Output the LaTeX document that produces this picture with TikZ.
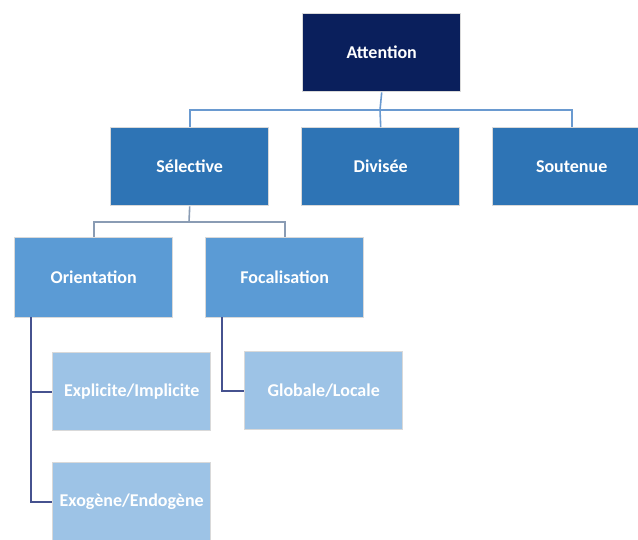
\documentclass[tikz,border=0pt]{standalone}
\usepackage{fontspec}
\setmainfont{Carlito}
\begin{document}
\begin{tikzpicture}[x=1pt,y=-1pt,
  box/.style={rectangle,anchor=north west,minimum width=158pt,minimum height=78pt,
    inner sep=0pt,draw=gray!30,line width=1.4pt,text=white,
    font=\fontsize{18}{21}\selectfont\bfseries},
  lvlA/.style={box,fill=navyA},
  lvlB/.style={box,fill=blueB},
  lvlC/.style={box,fill=blueC,minimum height=80pt},
  lvlD/.style={box,fill=blueD},
  linkA/.style={draw=linkAc,line width=1.6pt},
  linkB/.style={draw=linkBc,line width=1.6pt},
  linkC/.style={draw=linkCc,line width=2pt}]
\definecolor{navyA}{HTML}{0A1F5C}
\definecolor{blueB}{HTML}{2E74B5}
\definecolor{blueC}{HTML}{5B9BD5}
\definecolor{blueD}{HTML}{9DC3E6}
\definecolor{linkAc}{HTML}{6A9AD0}
\definecolor{linkBc}{HTML}{8A9CB4}
\definecolor{linkCc}{HTML}{46528F}
\useasboundingbox[fill=white] (0,0) rectangle (638,539);

% top level
\node[lvlA] (att) at (302,13) {Attention};
% second level
\node[lvlB] (sel) at (110,127) {Sélective};
\node[lvlB] (div) at (301,127) {Divisée};
\node[lvlB] (sou) at (492,127) {Soutenue};
% third level
\node[lvlC] (ori) at (14,237) {Orientation};
\node[lvlC] (foc) at (205,237) {Focalisation};
% fourth level
\node[lvlD] (exp) at (52,352) {Explicite/Implicite};
\node[lvlD] (exo) at (52,462) {Exogène/Endogène};
\node[lvlD] (glo) at (244,351) {Globale/Locale};

% connectors from Attention
\coordinate (busA) at (380,110);
\draw[linkA] (att.south) -- (busA);
\draw[linkA] (busA) -| (sel.north);
\draw[linkA] (busA) -- (div.north);
\draw[linkA] (busA) -| (sou.north);

% connectors from Sélective
\coordinate (busB) at (189,222);
\draw[linkB] (sel.south) -- (busB);
\draw[linkB] (busB) -| (ori.north);
\draw[linkB] (busB) -| (foc.north);

% connectors from Orientation
\coordinate (trunkO) at (31,317);
\draw[linkC] (trunkO) |- (exp.west);
\draw[linkC] (trunkO) |- (exo.west);

% connector from Focalisation
\coordinate (trunkF) at (222,317);
\draw[linkC] (trunkF) |- (glo.west);
\end{tikzpicture}
\end{document}
